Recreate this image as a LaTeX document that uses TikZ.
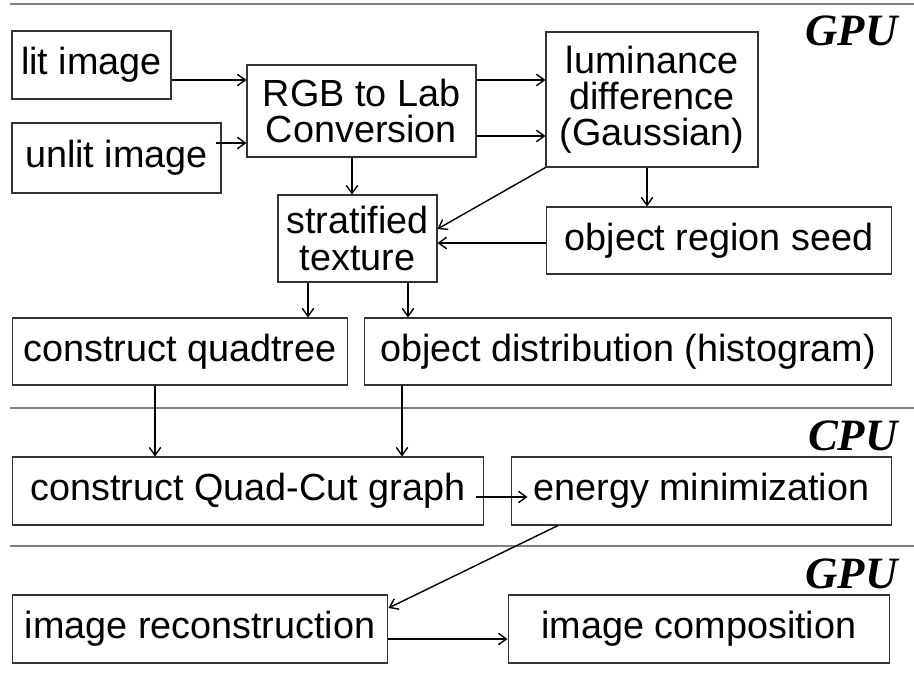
\documentclass[tikz,border=0pt]{standalone}
\usepackage{fontspec}
\setmainfont{Liberation Sans}
\newfontfamily\tagfont{Liberation Serif}
\usetikzlibrary{arrows.meta, positioning, calc}
\usepackage{xcolor}
\definecolor{cLine}{HTML}{333333}
\definecolor{cSep}{HTML}{808080}

\begin{document}
\begin{tikzpicture}[
  x=0.02cm, y=-0.02cm,
  sbox/.style={draw=cLine, line width=0.6pt, inner sep=2pt, align=center,
    font=\fontsize{21.5}{20.5}\selectfont},
  flow/.style={-{Straight Barb[length=4.5pt,width=6.5pt]}, line width=0.8pt},
  sep/.style={draw=cSep, line width=0.9pt},
  tag/.style={anchor=base east, inner sep=0pt,
    font=\tagfont\bfseries\itshape\fontsize{25.5}{28}\selectfont}
]
  \useasboundingbox (0,0) rectangle (914,683);

  % separators between GPU / CPU stages
  \draw[sep] (10,4) -- (914,4);
  \draw[sep] (10,408) -- (914,408);
  \draw[sep] (10,546) -- (914,546);

  \node[tag] (gpu1) at (898,45) {GPU};
  \node[tag] (cpu) at (898,450) {CPU};
  \node[tag] (gpu2) at (898,588) {GPU};

  % GPU stage
  \node[sbox, minimum width=3.18cm, minimum height=1.36cm] (lit) at (91.5,65) {lit image};
  \node[sbox, minimum width=4.18cm, minimum height=1.4cm] (unlit) at (116.5,158) {unlit image};
  \node[sbox, minimum width=4.58cm, minimum height=1.84cm] (rgb) at (361.5,111) {RGB to Lab\\Conversion};
  \node[sbox, minimum width=4.24cm, minimum height=2.7cm] (lum) at (652,99.5) {luminance\\difference\\(Gaussian)};
  \node[sbox, minimum width=3.18cm, minimum height=1.74cm] (strat) at (357.5,238.5) {stratified\\texture};
  \node[sbox, minimum width=6.92cm, minimum height=1.34cm] (seed) at (719,240.5) {object region seed};
  \node[sbox, minimum width=6.72cm, minimum height=1.34cm] (quad) at (180,351.5) {construct quadtree};
  \node[sbox, minimum width=10.56cm, minimum height=1.34cm] (dist) at (628,351.5) {object distribution (histogram)};

  % CPU stage
  \node[sbox, minimum width=9.44cm, minimum height=1.36cm] (qcut) at (248,491) {construct Quad-Cut graph};
  \node[sbox, minimum width=7.62cm, minimum height=1.36cm] (energy) at (701.5,491) {energy minimization};

  % GPU stage
  \node[sbox, minimum width=7.52cm, minimum height=1.36cm] (recon) at (200,629) {image reconstruction};
  \node[sbox, minimum width=7.64cm, minimum height=1.36cm] (compo) at (699,629) {image composition};

  \draw[flow] (lit.east |- 0,80) -- (rgb.west |- 0,80);
  \draw[flow, shorten <=-0.12cm] (unlit.east |- 0,143) -- (rgb.west |- 0,143);
  \draw[flow] (rgb.east |- 0,80) -- (lum.west |- 0,80);
  \draw[flow] (rgb.east |- 0,136) -- (lum.west |- 0,136);
  \draw[flow] (rgb.south -| 352,0) -- (strat.north -| 352,0);
  \draw[flow] (lum.south west) -- (strat.east |- 0,229);
  \draw[flow] (lum.south -| 647,0) -- (seed.north -| 647,0);
  \draw[flow] (seed.west |- 0,243) -- (strat.east |- 0,243);
  \draw[flow] (strat.south -| 308,0) -- (quad.north -| 308,0);
  \draw[flow] (strat.south -| 408,0) -- (dist.north -| 408,0);
  \draw[flow] (quad.south -| 155,0) -- (qcut.north -| 155,0);
  \draw[flow] (dist.south -| 402,0) -- (qcut.north -| 402,0);
  \draw[flow, shorten <=-0.16cm, shorten >=-0.34cm] (qcut.east |- 0,497) -- (energy.west |- 0,497);
  \draw[flow] (energy.south -| 558,0) -- (recon.east |- 0,608);
  \draw[flow] (recon.east |- 0,639) -- (compo.west |- 0,639);

\end{tikzpicture}
\end{document}
